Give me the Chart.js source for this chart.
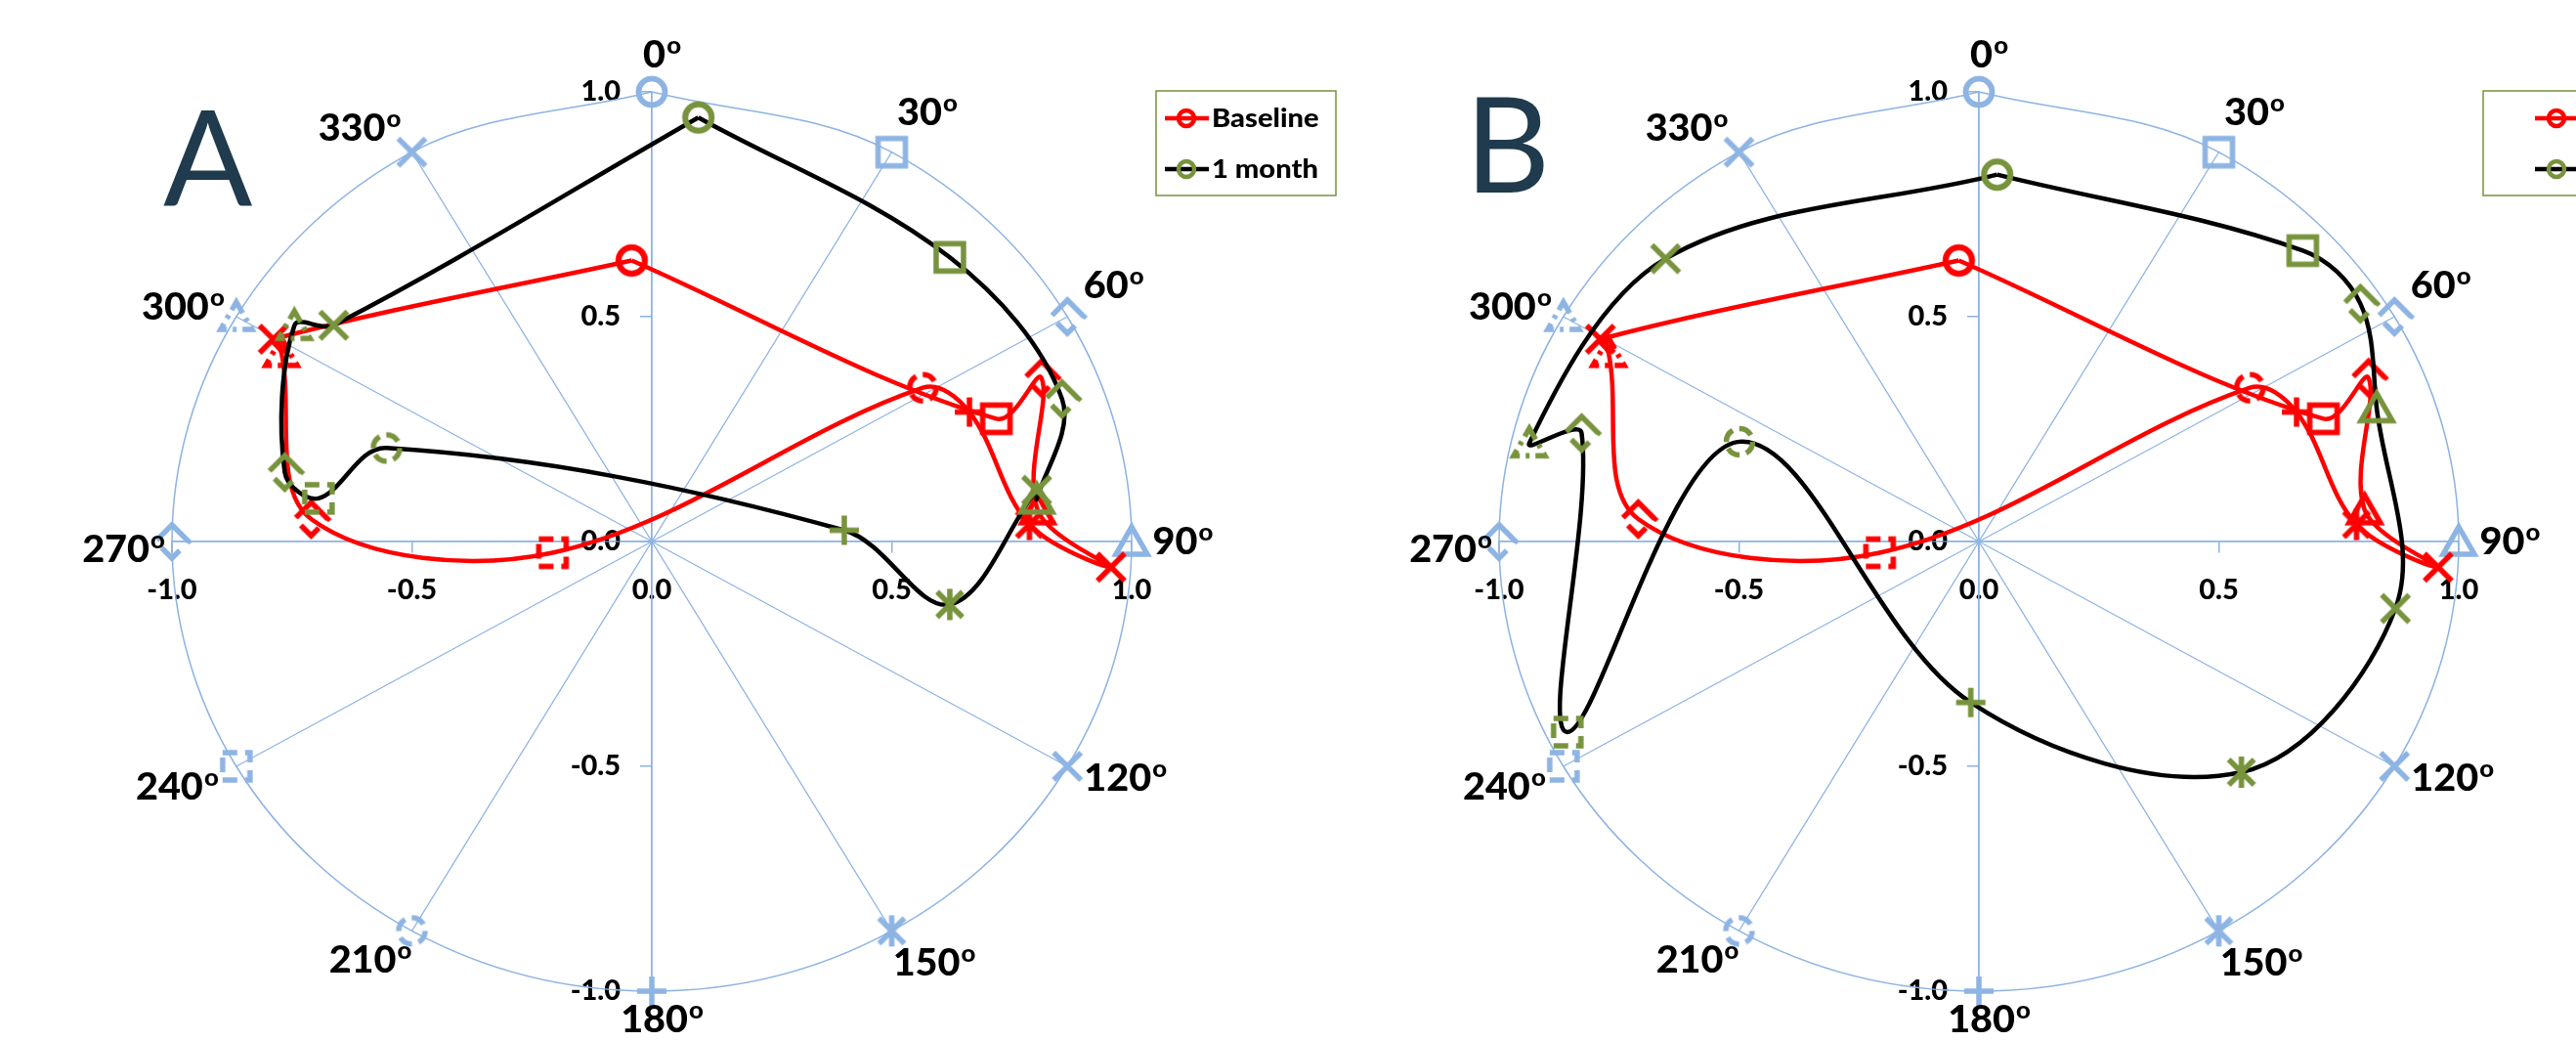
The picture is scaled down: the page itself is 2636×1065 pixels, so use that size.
<!DOCTYPE html>
<html>
<head>
<meta charset="utf-8">
<script src="https://cdn.jsdelivr.net/npm/chart.js@4.4.1/dist/chart.umd.min.js"></script>
<style>
  html, body { margin: 0; padding: 0; background: #fff; }
  body { width: 2636px; height: 1065px; position: relative; overflow: hidden; }
  canvas { position: absolute; top: 0; }
  #chartA { left: 0; }
  #chartB { left: 1358px; }
</style>
</head>
<body>
<canvas id="chartA" width="1400" height="1065"></canvas>
<canvas id="chartB" width="1278" height="1065"></canvas>
<script>
// angles round the reference ring (360 closes the loop)
var ringAngles = [0, 30, 60, 90, 120, 150, 180, 210, 240, 270, 300, 330, 360];
var angleLabels = ['0', '30', '60', '90', '120', '150', '180', '210', '240', '270', '300', '330'];
var axisTicks = [-1.0, -0.5, 0.0, 0.5, 1.0];
var seriesNames = ['Baseline', '1 month'];

// baseline, same in both panels (one point per angle, last one closes the loop)
var baselineX = [-0.042, 0.718, 0.812, 0.804, 0.957, 0.787, 0.662, 0.565, -0.207, -0.710, -0.772, -0.789, -0.042];
var baselineY = [0.625, 0.273, 0.364, 0.070, -0.057, 0.038, 0.288, 0.342, -0.025, 0.050, 0.420, 0.450, 0.625];

// 1 month, panel A
var monthAX = [0.097, 0.621, 0.855, 0.802, 0.802, 0.621, 0.401, -0.553, -0.695, -0.765, -0.745, -0.663, 0.097];
var monthAY = [0.943, 0.632, 0.317, 0.094, 0.114, -0.140, 0.025, 0.208, 0.096, 0.154, 0.480, 0.481, 0.943];

// 1 month, panel B
var monthBX = [0.038, 0.675, 0.795, 0.829, 0.868, 0.547, -0.017, -0.499, -0.858, -0.828, -0.937, -0.653, 0.038];
var monthBY = [0.816, 0.647, 0.529, 0.297, -0.149, -0.513, -0.358, 0.222, -0.424, 0.241, 0.219, 0.629, 0.816];

// styling
var ringBlue = 'rgb(142,180,227)';
var axisBlue = 'rgb(141,179,226)';
var olive = '#77933C';
var markerShapes = ['circle', 'square', 'diamond', 'triangle', 'x', 'star', 'plus', 'circle', 'square', 'diamond', 'triangle', 'x', 'circle'];
var markerDash = [null, null, [26, 11], null, null, null, null, [14, 7], [15, 8], [26, 11], [13, 6, 4, 6], null, null];
var labelOffsets = [[10, -38], [36, -41], [47, -32], [52, 0], [59, 12], [43, 32], [10, 29], [-43, 29], [-61, 21], [-50, 8], [-55, -10], [-54, -25]];
var textStretch = 1.07;

function makeMarker(shape, color, lw, dash) {
    var size = 50;
    var c = document.createElement('canvas');
    c.width = size;
    c.height = size;
    var g = c.getContext('2d');
    g.translate(size / 2, size / 2);
    g.strokeStyle = color;
    g.lineWidth = lw;
    if (dash) g.setLineDash(dash);
    g.beginPath();
    switch (shape) {
        case 'circle':
            g.arc(0, 0, 13.5, -Math.PI / 2, 1.5 * Math.PI);
            break;
        case 'dot':
            g.arc(0, 0, 8, 0, 2 * Math.PI);
            break;
        case 'square':
            g.rect(-14, -14, 28, 28);
            break;
        case 'diamond':
            g.moveTo(0, -17); g.lineTo(17, 0); g.lineTo(0, 17); g.lineTo(-17, 0); g.closePath();
            break;
        case 'triangle':
            g.moveTo(0, -15); g.lineTo(16, 13); g.lineTo(-16, 13); g.closePath();
            break;
        case 'x':
            g.moveTo(-14, -14); g.lineTo(14, 14); g.moveTo(14, -14); g.lineTo(-14, 14);
            break;
        case 'star':
            g.moveTo(-13, -13); g.lineTo(13, 13); g.moveTo(13, -13); g.lineTo(-13, 13);
            g.moveTo(0, -16); g.lineTo(0, 16);
            break;
        case 'plus':
            g.moveTo(-15, 0); g.lineTo(15, 0); g.moveTo(0, -15); g.lineTo(0, 15);
            break;
    }
    g.stroke();
    return c;
}

function toPoints(xs, ys) {
    return xs.map(function (x, i) { return {x: x, y: ys[i]}; });
}

function rad(a) { return a * Math.PI / 180; }

function seriesDataset(label, pts, lineColor, markColor, order) {
    var marks = markerShapes.map(function (sh, i) { return makeMarker(sh, markColor, 5.5, markerDash[i]); });
    return {
        label: label,
        data: pts,
        showLine: true,
        borderColor: lineColor,
        borderWidth: 4.5,
        tension: 0.35,
        pointStyle: function (ctx) { return marks[ctx.dataIndex]; },
        pointRadius: 15,
        clip: false,
        order: order,
        legendMark: makeMarker('dot', markColor, 4.5, null)
    };
}

function buildDatasets(monthX, monthY) {
    var ringPts = ringAngles.map(function (a) { return {x: Math.sin(rad(a)), y: Math.cos(rad(a))}; });
    var ringMarks = markerShapes.map(function (sh, i) { return makeMarker(sh, ringBlue, 5.5, markerDash[i]); });
    var sets = [];
    sets.push(seriesDataset(seriesNames[1], toPoints(monthX, monthY), '#000', olive, 0));
    sets.push(seriesDataset(seriesNames[0], toPoints(baselineX, baselineY), '#FF0000', '#FF0000', 1));
    sets.push({
        label: 'ring', data: ringPts, showLine: true, borderColor: axisBlue, borderWidth: 1.5,
        tension: 0.35, pointStyle: function (ctx) { return ringMarks[ctx.dataIndex]; },
        pointRadius: 15, clip: false, order: 2
    });
    // diameters through the centre every 30 degrees
    ringAngles.slice(0, 6).forEach(function (a) {
        sets.push({
            label: 'spoke', data: [{x: Math.sin(rad(a)), y: Math.cos(rad(a))}, {x: -Math.sin(rad(a)), y: -Math.cos(rad(a))}],
            showLine: true, borderColor: axisBlue, borderWidth: 1.2, pointRadius: 0, clip: false, order: 3
        });
    });
    return sets;
}

// number with a raised small "o" for degrees, centred on (cx, cy)
function drawDegree(ctx, text, cx, cy) {
    ctx.font = '900 37px Lato';
    var wd = ctx.measureText(text).width;
    ctx.font = '900 24px Lato';
    var wo = ctx.measureText('o').width;
    var total = (wd + wo) * textStretch;
    ctx.save();
    ctx.translate(cx - total / 2, cy + 13.3);
    ctx.scale(textStretch, 1);
    ctx.font = '900 37px Lato';
    ctx.fillText(text, 0, 0);
    ctx.font = '900 24px Lato';
    ctx.fillText('o', wd + 1, -14);
    ctx.restore();
}

var panelDecor = {
    id: 'panelDecor',
    afterDraw: function (chart, args, opts) {
        var ctx = chart.ctx;
        var sets = chart.data.datasets;
        var ringIdx = sets.findIndex(function (d) { return d.label === 'ring'; });
        var ring = chart.getDatasetMeta(ringIdx).data;
        ctx.save();
        ctx.fillStyle = '#000';
        ctx.textAlign = 'left';
        ctx.textBaseline = 'alphabetic';
        angleLabels.forEach(function (t, i) {
            drawDegree(ctx, t, ring[i].x + labelOffsets[i][0], ring[i].y + labelOffsets[i][1]);
        });

        // panel letter
        ctx.font = '135px Lato';
        ctx.fillStyle = '#1F3B4D';
        var m = ctx.measureText(opts.letter);
        ctx.fillText(opts.letter, opts.letterX + m.actualBoundingBoxLeft, opts.letterY);

        // legend box
        var lg = opts.legend;
        ctx.strokeStyle = olive;
        ctx.lineWidth = 1.5;
        ctx.strokeRect(lg.x, lg.y, lg.w, lg.h);
        var items = [sets[1], sets[0]];
        ctx.textBaseline = 'middle';
        items.forEach(function (d, i) {
            var y = lg.rows[i];
            ctx.strokeStyle = d.borderColor;
            ctx.lineWidth = 4.5;
            ctx.beginPath();
            ctx.moveTo(lg.line[0], y);
            ctx.lineTo(lg.line[1], y);
            ctx.stroke();
            ctx.drawImage(d.legendMark, lg.mark - d.legendMark.width / 2, y - d.legendMark.height / 2);
            ctx.save();
            ctx.translate(lg.text, y + 1);
            ctx.scale(1.12, 1);
            ctx.font = '900 26px Lato';
            ctx.fillStyle = '#000';
            ctx.fillText(d.label, 0, 0);
            ctx.restore();
        });
        ctx.restore();
    }
};

function axisScale(pos) {
    return {
        type: 'linear',
        min: -1,
        max: 1,
        position: pos,
        afterBuildTicks: function (scale) {
            scale.ticks = axisTicks.map(function (v) { return {value: v}; });
        },
        ticks: {
            callback: function (v) { return v.toFixed(1); },
            font: {family: 'Lato', weight: '900', size: 29},
            color: '#000',
            padding: 21,
            maxRotation: 0,
            autoSkip: false
        },
        grid: {drawOnChartArea: false, tickLength: 11, color: axisBlue, lineWidth: 1.5},
        border: {color: axisBlue, width: 1.5}
    };
}

function buildChart(id, monthX, monthY, decor, rightPad) {
    return new Chart(document.getElementById(id), {
        type: 'scatter',
        data: {datasets: buildDatasets(monthX, monthY)},
        options: {
            responsive: false,
            animation: false,
            events: [],
            layout: {padding: {left: 176, right: rightPad, top: 94, bottom: 51}},
            elements: {line: {capBezierPoints: false}},
            // axes cross at 0,0 (the middle of the symmetric ranges)
            scales: {x: axisScale({y: 0}), y: axisScale('center')},
            plugins: {legend: {display: false}, tooltip: {enabled: false}, panelDecor: decor}
        },
        plugins: [panelDecor]
    });
}

Chart.defaults.font.family = 'Lato';

Promise.all([document.fonts.load('900 37px Lato'), document.fonts.load('bold 37px Lato'), document.fonts.load('135px Lato')]).then(function () {
    buildChart('chartA', monthAX, monthAY, {
        letter: 'A', letterX: 167, letterY: 211,
        legend: {x: 1183, y: 93, w: 184, h: 107, rows: [121, 173], line: [1192, 1237], mark: 1214, text: 1240}
    }, 242);
    buildChart('chartB', monthBX, monthBY, {
        letter: 'B', letterX: 153, letterY: 197,
        legend: {x: 1183, y: 93, w: 184, h: 107, rows: [121, 173], line: [1236, 1290], mark: 1258, text: 1290}
    }, 120);
});
</script>
</body>
</html>
